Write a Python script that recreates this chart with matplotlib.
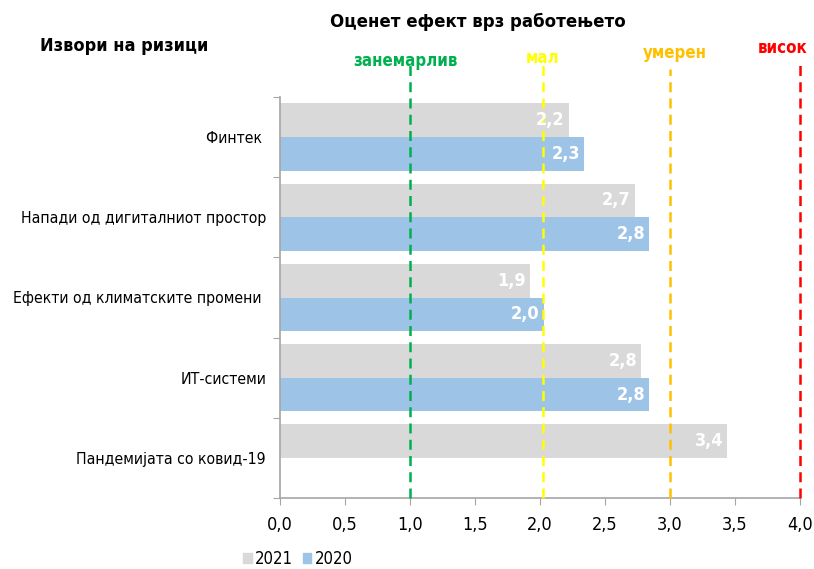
import numpy as np
import matplotlib
matplotlib.use("Agg")
import matplotlib.pyplot as plt
from matplotlib.patches import Patch

plt.rcParams['font.family'] = ['DejaVu Sans']
plt.rcParams['font.stretch'] = 'condensed'

# data
categories = ['Финтек ', 'Напади од дигиталниот простор', 'Ефекти од климатските промени ',
              'ИТ-системи', 'Пандемијата со ковид-19']
values_2021 = [2.22, 2.73, 1.92, 2.78, 3.44]
values_2020 = [2.34, 2.84, 2.03, 2.84, None]
series_names = ['2021', '2020']
thresholds = [1.0, 2.02, 3.0, 4.0]
threshold_labels = ['занемарлив', 'мал', 'умерен', 'висок']
xticks = [0.0, 0.5, 1.0, 1.5, 2.0, 2.5, 3.0, 3.5, 4.0]

GRAY = '#D9D9D9'
BLUE = '#9DC3E6'
line_colors = ['#00B050', '#FFFF00', '#FFC000', '#FF0000']
line_tops = [1.08, 1.085, 1.07, 1.09]
label_pos = [(405, 61), (543, 58), (675, 53), (783, 48)]

fig = plt.figure(figsize=(8.14, 5.69), dpi=100)
W, H = 814, 569
ax = fig.add_axes([280 / W, 1 - 498 / H, 520 / W, 401 / H])

bh = 0.42
y = np.arange(len(categories))
for i, v in enumerate(values_2021):
    ax.barh(y[i] - bh / 2, v, height=bh, color=GRAY, zorder=2)
    ax.annotate(f'{v:.1f}'.replace('.', ','), (v, y[i] - bh / 2), xytext=(-3, 0),
                textcoords='offset points', ha='right', va='center',
                color='white', fontsize=13, fontweight='bold', zorder=4)
for i, v in enumerate(values_2020):
    if v is None:
        continue
    ax.barh(y[i] + bh / 2, v, height=bh, color=BLUE, zorder=2)
    ax.annotate(f'{v:.1f}'.replace('.', ','), (v, y[i] + bh / 2), xytext=(-3, 0),
                textcoords='offset points', ha='right', va='center',
                color='white', fontsize=13, fontweight='bold', zorder=4)

for x, c, top in zip(thresholds, line_colors, line_tops):
    ax.axvline(x, ymin=0, ymax=top, color=c, linestyle=(0, (4, 2.5)), lw=1.8,
               clip_on=False, zorder=3)
for lab, c, (px, py) in zip(threshold_labels, line_colors, label_pos):
    fig.text(px / W, 1 - py / H, lab, color=c, fontsize=12.2, fontweight='bold',
             ha='center', va='center', zorder=5)

ax.set_xlim(0, 4)
ax.set_ylim(len(categories) - 0.5, -0.5)
ax.set_xticks(xticks)
ax.set_xticklabels([f'{t:.1f}'.replace('.', ',') for t in xticks], fontsize=13)
ax.set_yticks(np.arange(len(categories) + 1) - 0.5)
ax.set_yticklabels([])
ax.set_yticks(y, minor=True)
ax.set_yticklabels(categories, minor=True, fontsize=11.3)
ax.tick_params(axis='y', which='minor', length=0, pad=10)
ax.tick_params(axis='y', which='major', length=5, color='#A6A6A6')
ax.tick_params(axis='x', length=5, color='#A6A6A6', pad=8)
for s in ['top', 'right']:
    ax.spines[s].set_visible(False)
for s in ['left', 'bottom']:
    ax.spines[s].set_color('#A6A6A6')
    ax.spines[s].set_linewidth(1.2)

fig.text(478 / W, 1 - 22 / H, 'Оценет ефект врз работењето', fontsize=13.3,
         fontweight='bold', ha='center', va='center')
fig.text(40 / W, 1 - 46 / H, 'Извори на ризици', fontsize=13,
         fontweight='bold', ha='left', va='center')

handles = [Patch(color=GRAY), Patch(color=BLUE)]
fig.legend(handles, series_names, loc='center left', bbox_to_anchor=(235 / W, 1 - 559 / H),
           ncol=2, frameon=False, fontsize=12, handlelength=0.5, handleheight=0.5,
           handletextpad=0.2, columnspacing=0.6, borderpad=0)

fig.savefig('out.png', dpi=100)
